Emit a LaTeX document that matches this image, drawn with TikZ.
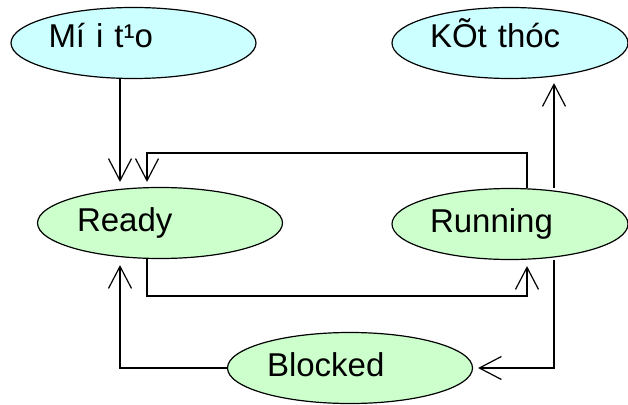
\documentclass[tikz,border=0pt]{standalone}
\usepackage{fontspec}
\setmainfont{Liberation Sans}
\usepackage{xcolor}
\usepackage{tikz}
\usetikzlibrary{arrows.meta,positioning,calc,backgrounds,shapes.geometric}
\definecolor{endcyan}{HTML}{CCFFFF}
\definecolor{stategreen}{HTML}{CCFFCC}

\begin{document}
\begin{tikzpicture}[
    x=1pt, y=-1pt,
    >={Straight Barb[length=22pt,width=23pt]},
    state/.style={draw=black, line width=1.2pt, ellipse, fill=stategreen, inner sep=0pt, minimum width=245pt, minimum height=71pt, text width=166pt, align=left, text height=24pt, text depth=7pt, font=\fontsize{33}{38}\selectfont},
    terminal/.style={state, fill=endcyan, text depth=15pt},
    link/.style={->, line width=1.2pt}
]
\useasboundingbox (0,0) rectangle (628,404);
\node[terminal, text width=170pt] (moi) at (133.5,43) {Mí i t¹o};
\node[terminal, minimum width=236pt, text width=160pt] (ketthuc) at (510,43) {KÕt thóc};
\node[state] (ready) at (160,223) {Ready};
\node[state, minimum width=236pt, text width=160pt] (running) at (510,224) {Running};
\node[state] (blocked) at (350,368) {Blocked};
\coordinate (leftrail) at (120,0);
\coordinate (innerleft) at (147,0);
\coordinate (innerright) at (527,0);
\coordinate (rightrail) at (554,0);
\coordinate (toprow) at (0,153);
\coordinate (botrow) at (0,296);
\begin{scope}[on background layer]
\draw[link] (moi.south -| leftrail) -- ($(ready.north -| leftrail)+(0,-5)$);
\draw[link] (running.north -| innerright) |- (toprow -| innerleft) -- ($(ready.north -| innerleft)+(0,-5)$);
\draw[link] (ready.south -| innerleft) |- (botrow -| innerright) -- ($(running.south -| innerright)+(0,6)$);
\draw[link] (running.north -| rightrail) -- ($(ketthuc.south -| rightrail)+(0,4)$);
\draw[link] (running.south -| rightrail) |- ($(blocked.east)+(5,0)$);
\draw[link] (blocked.west) -| ($(ready.south -| leftrail)+(0,6)$);
\end{scope}
\end{tikzpicture}
\end{document}
